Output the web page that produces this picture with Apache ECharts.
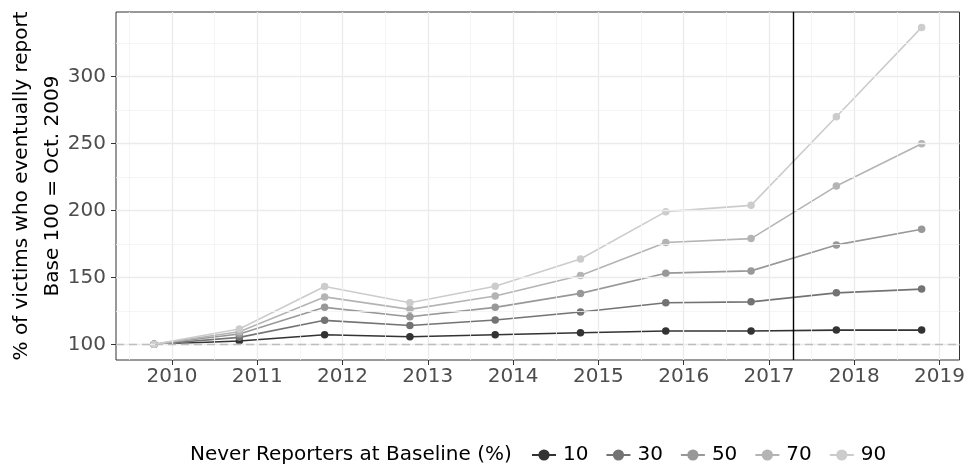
<!DOCTYPE html>
<html>
<head>
<meta charset="utf-8">
<script src="https://cdn.jsdelivr.net/npm/echarts@6/dist/echarts.min.js"></script>
<style>
html,body{margin:0;padding:0;background:#fff;}
#chart{width:968px;height:468px;}
</style>
</head>
<body>
<div id="chart"></div>
<script>
// ---- data ----
var timePoints = [2009.79, 2010.79, 2011.79, 2012.79, 2013.79, 2014.79, 2015.79, 2016.79, 2017.79, 2018.79];
var seriesNames = ['10', '30', '50', '70', '90'];
var s10 = [100, 102.5, 107.1, 105.7, 107.1, 108.6, 109.9, 109.9, 110.6, 110.6];
var s30 = [100, 105.2, 117.9, 114.1, 118.1, 124.1, 131.0, 131.7, 138.4, 141.2];
var s50 = [100, 107.7, 127.6, 120.6, 127.6, 138.0, 153.1, 154.8, 174.2, 185.9];
var s70 = [100, 109.4, 135.4, 126.1, 136.0, 151.4, 176.0, 178.9, 218.1, 249.7];
var s90 = [100, 111.4, 143.2, 131.0, 143.4, 163.7, 199.0, 203.7, 269.8, 336.5];
var xTickLabels = [2010, 2011, 2012, 2013, 2014, 2015, 2016, 2017, 2018, 2019];
var xMinorBreaks = [2009.5, 2010.5, 2011.5, 2012.5, 2013.5, 2014.5, 2015.5, 2016.5, 2017.5, 2018.5];
var yTickLabels = [100, 150, 200, 250, 300];
var yMinorBreaks = [125, 175, 225, 275, 325];
var baseline = 100;
var eventYear = 2017.28;

// ---- styling ----
var colors = ['#333333', '#737373', '#989898', '#b4b4b4', '#cccccc'];
var FONT = 'DejaVu Sans';

var valuesList = [s10, s30, s50, s70, s90];
var series = [];

// grid lines (helper series, drawn through axes)
series.push({
  type: 'line', data: [], z: 1, silent: true,
  markLine: {
    silent: true, symbol: 'none', animation: false,
    label: {show: false},
    lineStyle: {color: '#f2f2f2', width: 0.8, type: 'solid'},
    data: xMinorBreaks.map(function (v) { return {xAxis: v}; })
      .concat(yMinorBreaks.map(function (v) { return {yAxis: v}; }))
  }
});
series.push({
  type: 'line', data: [], z: 1, silent: true,
  markLine: {
    silent: true, symbol: 'none', animation: false,
    label: {show: false},
    lineStyle: {color: '#ebebeb', width: 1.3, type: 'solid'},
    data: xTickLabels.map(function (v) { return {xAxis: v}; })
      .concat(yTickLabels.map(function (v) { return {yAxis: v}; }))
  }
});
// dashed baseline
series.push({
  type: 'line', data: [], z: 2, silent: true,
  markLine: {
    silent: true, symbol: 'none', animation: false,
    label: {show: false},
    lineStyle: {color: '#bebebe', width: 1.4, type: [8, 5]},
    data: [{yAxis: baseline}]
  }
});

seriesNames.forEach(function (name, i) {
  series.push({
    name: name,
    type: 'line',
    z: 3,
    data: timePoints.map(function (t, j) { return [t, valuesList[i][j]]; }),
    symbol: 'circle',
    symbolSize: 7.5,
    showSymbol: true,
    color: colors[i],
    lineStyle: {color: colors[i], width: 1.6},
    itemStyle: {color: colors[i]},
    animation: false
  });
});

// vertical event line
series.push({
  type: 'line', data: [], z: 10, silent: true,
  markLine: {
    silent: true, symbol: 'none', animation: false,
    label: {show: false},
    lineStyle: {color: '#000000', width: 1.4, type: 'solid'},
    data: [{xAxis: eventYear}]
  }
});

var chart = echarts.init(document.getElementById('chart'), null, {renderer: 'canvas'});
chart.setOption({
  animation: false,
  backgroundColor: '#ffffff',
  grid: {
    left: 116, right: 7, top: 12, bottom: 108,
    show: true, borderColor: '#333333', borderWidth: 1, backgroundColor: 'transparent',
    containLabel: false
  },
  xAxis: {
    type: 'value',
    min: 2009.344, max: 2019.234,
    axisLine: {show: false},
    splitLine: {show: false},
    axisTick: {show: true, customValues: xTickLabels, length: 5, lineStyle: {color: '#333333', width: 1}},
    axisLabel: {
      customValues: xTickLabels, color: '#4d4d4d', fontFamily: FONT, fontSize: 20, margin: 7,
      formatter: function (v) { return String(Math.round(v)); }
    }
  },
  yAxis: {
    type: 'value',
    min: 88.3, max: 348,
    axisLine: {show: false},
    splitLine: {show: false},
    axisTick: {show: true, customValues: yTickLabels, length: 5, lineStyle: {color: '#333333', width: 1}},
    axisLabel: {
      customValues: yTickLabels, color: '#4d4d4d', fontFamily: FONT, fontSize: 20, margin: 10,
      formatter: function (v) { return String(Math.round(v)); }
    }
  },
  legend: {
    data: seriesNames,
    left: 526, top: 440,
    orient: 'horizontal',
    itemWidth: 24, itemHeight: 14, itemGap: 17,
    textStyle: {color: '#000000', fontFamily: FONT, fontSize: 20, padding: [0, 0, 0, 2], lineHeight: 20},
    selectedMode: false
  },
  graphic: [
    {type: 'text', left: 190, top: 445,
     style: {text: 'Never Reporters at Baseline (%)', fill: '#000000', font: '20px "DejaVu Sans"'}},
    {type: 'text', x: 22, y: 186, rotation: Math.PI / 2,
     style: {text: '% of victims who eventually report', fill: '#000000', font: '20px "DejaVu Sans"',
             align: 'center', verticalAlign: 'middle'}},
    {type: 'text', x: 53, y: 186, rotation: Math.PI / 2,
     style: {text: 'Base 100 = Oct. 2009', fill: '#000000', font: '20px "DejaVu Sans"',
             align: 'center', verticalAlign: 'middle'}}
  ],
  series: series
});
</script>
</body>
</html>
